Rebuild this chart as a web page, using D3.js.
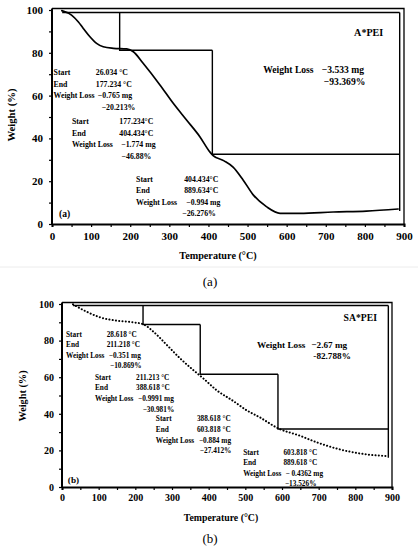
<!DOCTYPE html>
<html lang="en">
<head>
<meta charset="UTF-8">
<title>TGA of A*PEI and SA*PEI</title>
<script src="https://d3js.org/d3.v7.min.js"></script>
<style>
  body { margin: 0; background: #fff; }
  svg { display: block; }
  svg text { font-family: "Liberation Serif", "Times New Roman", "DejaVu Serif", serif; fill: #000; }
  .axis path, .axis line { stroke: #000; }
  .axis text { font-weight: bold; }
  .ann { font-weight: bold; }
</style>
</head>
<body>
<svg width="418" height="550"></svg>
<script>
  // ---- data ----
  const tempTicks = d3.range(0, 901, 50);
  const weightTicks = d3.range(0, 101, 10);

  // (a) A*PEI curve
  const tempA   = [25, 50, 67, 80, 97, 114, 131, 157, 191, 208, 233, 276, 310, 344, 378, 404, 412, 440, 463, 489, 515, 549, 583, 634, 719, 804, 885];
  const weightA = [99.7, 97.6, 94.5, 91.4, 87.5, 84.4, 82.8, 82.1, 81.8, 80.5, 75.1, 65, 56.4, 48.6, 40.8, 33.6, 32, 29.5, 26.6, 20.5, 13.5, 8, 5, 5, 5.6, 6, 7];

  // (b) SA*PEI curve
  const tempB   = [30, 67, 104, 149, 194, 222, 249, 286, 322, 358, 385, 421, 467, 503, 540, 590, 649, 695, 740, 785, 831, 890];
  const weightB = [99.8, 95.8, 92.7, 90.9, 90, 88.9, 84.9, 77.6, 70.3, 63.9, 59.4, 53, 47, 42, 38, 32, 28, 24.4, 21.5, 19.3, 17.8, 16.9];

  // step markers: start temp + step end temps, and plateau levels
  const stepTempsA  = [26, 173, 410, 889];
  const stepLevelsA = [98.8, 81.2, 32.6, 6.1];
  const stepTempsB  = [30, 221, 377, 589, 890];
  const stepLevelsB = [99.2, 88.8, 61.6, 31.7, 16];

  // annotation text
  const blocksA = [
    ["26.034 °C", "177.234 °C", "−0.765 mg", "−20.213%"],
    ["177.234°C", "404.434°C", "−1.774 mg", "−46.88%"],
    ["404.434°C", "889.634°C", "−0.994 mg", "−26.276%"]
  ];
  const blocksB = [
    ["28.618 °C", "211.218 °C", "−0.351 mg", "−10.869%"],
    ["211.213 °C", "388.618 °C", "−0.9991 mg", "−30.981%"],
    ["388.618 °C", "603.818 °C", "−0.884 mg", "−27.412%"],
    ["603.818 °C", "889.618 °C", "− 0.4362 mg", "−13.526%"]
  ];
  const totalA = ["−3.533 mg", "−93.369%"];
  const totalB = ["−2.67 mg", "-82.788%"];
  const sampleA = "A*PEI";
  const sampleB = "SA*PEI";

  const svg = d3.select("svg");

  // faint rule between the two figures
  svg.append("line")
    .attr("x1", 0).attr("x2", 418).attr("y1", 267).attr("y2", 267)
    .attr("stroke", "#ececec");

  function drawPanel(p) {
    const x = d3.scaleLinear().domain([0, 900]).range([p.left, p.right]);
    const y = d3.scaleLinear().domain([0, 100]).range([p.bottom, p.top]);
    const g = svg.append("g");

    // frame (top and right)
    g.append("path")
      .attr("d", `M${x(0)},${y(100) - 1.5}H${x(900)}V${y(0)}`)
      .attr("fill", "none").attr("stroke", "#000").attr("stroke-width", 1.3);

    // axes
    const ax = g.append("g").attr("class", "axis")
      .attr("transform", `translate(0,${y(0)})`)
      .call(d3.axisBottom(x).tickValues(tempTicks)
        .tickFormat(d => d % 100 === 0 ? d : "")
        .tickSize(3).tickPadding(p.pad));
    const ay = g.append("g").attr("class", "axis")
      .attr("transform", `translate(${x(0)},0)`)
      .call(d3.axisLeft(y).tickValues(weightTicks)
        .tickFormat(d => d % 20 === 0 ? d : "")
        .tickSize(3).tickPadding(p.pad + 1));
    [ax, ay].forEach(a => {
      a.attr("font-family", null);
      a.select(".domain").attr("stroke-width", 2);
      a.selectAll("line").attr("stroke-width", 1.2);
      a.selectAll("text").style("font-size", p.tickSize + "px");
    });
    ay.select(".domain").attr("d", `M0,${y(0)}V${y(100) - 1.5}`);

    // step lines
    const t = p.stepT, L = p.stepL, n = t.length - 1;
    let d = `M${x(t[0])},${y(L[0])}H${x(t[n])}`;
    for (let i = 1; i < n; i++) {
      d += `M${x(t[i])},${y(L[i - 1])}V${y(L[i])}H${x(t[i + 1])}`;
    }
    d += `M${x(t[n])},${y(L[0])}V${y(L[n])}`;
    g.append("path").attr("d", d)
      .attr("fill", "none").attr("stroke", "#000").attr("stroke-width", 1.4);

    // TGA curve
    const line = d3.line()
      .x(i => x(p.temps[i]))
      .y(i => y(p.weights[i]))
      .curve(d3.curveMonotoneX);
    g.append("path")
      .attr("d", line(d3.range(p.temps.length)))
      .attr("fill", "none").attr("stroke", "#000")
      .attr("stroke-width", p.dotted ? 2 : 1.7)
      .attr("stroke-linecap", "round")
      .attr("stroke-dasharray", p.dotted ? "0.1 3.2" : null);

    // step annotations
    const names = ["Start", "End", "Weight Loss"];
    p.blocks.forEach((b, k) => {
      const pos = p.blockPos[k];
      b.forEach((txt, j) => {
        const yy = y(pos.w) + j * p.lineGap;
        if (j < 3) {
          g.append("text").attr("class", "ann")
            .attr("x", x(pos.label)).attr("y", yy)
            .attr("dominant-baseline", "central")
            .style("font-size", p.annSize + "px")
            .text(names[j]);
        }
        g.append("text").attr("class", "ann")
          .attr("x", x(j === 3 ? pos.pct : pos.value) + (j === 2 ? 2 : 0)).attr("y", yy)
          .attr("dominant-baseline", "central")
          .style("font-size", p.annSize + "px")
          .text(txt);
      });
    });

    // total loss
    g.append("text").attr("class", "ann")
      .attr("x", x(p.total.label)).attr("y", y(p.total.w))
      .attr("dominant-baseline", "central")
      .style("font-size", p.bigSize + "px").text("Weight Loss");
    p.totals.forEach((txt, j) => {
      g.append("text").attr("class", "ann")
        .attr("x", x(p.total.value) + j * 2).attr("y", y(p.total.w) + j * p.bigGap)
        .attr("dominant-baseline", "central")
        .style("font-size", p.bigSize + "px").text(txt);
    });

    // sample name
    g.append("text").attr("class", "ann")
      .attr("x", x(p.name.t)).attr("y", y(p.name.w))
      .attr("text-anchor", "end").attr("dominant-baseline", "central")
      .style("font-size", p.bigSize + 0.5 + "px").text(p.name.text);

    // inner panel tag
    g.append("text").attr("class", "ann")
      .attr("x", x(p.tag.t)).attr("y", y(p.tag.w))
      .attr("dominant-baseline", "central")
      .style("font-size", p.bigSize + "px").text(p.tag.text);

    // axis titles
    g.append("text").attr("class", "ann")
      .attr("x", p.xTitle[0]).attr("y", p.xTitle[1])
      .attr("text-anchor", "middle").attr("dominant-baseline", "central")
      .style("font-size", p.titleSize + "px").text("Temperature (°C)");
    g.append("text").attr("class", "ann")
      .attr("transform", `translate(${p.yTitle[0]},${p.yTitle[1]}) rotate(-90)`)
      .attr("text-anchor", "middle").attr("dominant-baseline", "central")
      .style("font-size", p.titleSize + 0.5 + "px").text("Weight (%)");

    // figure caption
    svg.append("text")
      .attr("x", p.caption[0]).attr("y", p.caption[1])
      .attr("text-anchor", "middle").attr("dominant-baseline", "central")
      .style("font-size", "13px").text(p.caption[2]);
  }

  drawPanel({
    left: 52, right: 404, top: 10, bottom: 224, pad: 5, tickSize: 11,
    temps: tempA, weights: weightA, dotted: false,
    stepT: stepTempsA, stepL: stepLevelsA,
    blocks: blocksA, annSize: 7.8, lineGap: 11.5,
    blockPos: [
      { label: 4, value: 112, pct: 127, w: 70.6 },
      { label: 51, value: 172, pct: 178, w: 47.7 },
      { label: 215, value: 338, pct: 333, w: 21 }
    ],
    totals: totalA, bigSize: 9.6, bigGap: 12,
    total: { label: 540, value: 690, w: 72 },
    name: { t: 847, w: 89.7, text: sampleA },
    tag: { t: 18, w: 5.1, text: "(a)" },
    titleSize: 10.2, xTitle: [218, 255], yTitle: [11, 115],
    caption: [210, 281, "(a)"]
  });
  drawPanel({
    left: 62, right: 392, top: 304, bottom: 487, pad: 4, tickSize: 10,
    temps: tempB, weights: weightB, dotted: true,
    stepT: stepTempsB, stepL: stepLevelsB,
    blocks: blocksB, annSize: 7.3, lineGap: 10.6,
    blockPos: [
      { label: 11, value: 122, pct: 131, w: 83.6 },
      { label: 90, value: 202, pct: 220, w: 60 },
      { label: 256, value: 368, pct: 376, w: 37.2 },
      { label: 494, value: 604, pct: 608, w: 19.1 }
    ],
    totals: totalB, bigSize: 9.2, bigGap: 11,
    total: { label: 532, value: 680, w: 77.6 },
    name: { t: 859, w: 92.4, text: sampleB },
    tag: { t: 16, w: 3.8, text: "(b)" },
    titleSize: 9.8, xTitle: [221, 517], yTitle: [22, 396],
    caption: [210, 538, "(b)"]
  });
</script>
</body>
</html>
